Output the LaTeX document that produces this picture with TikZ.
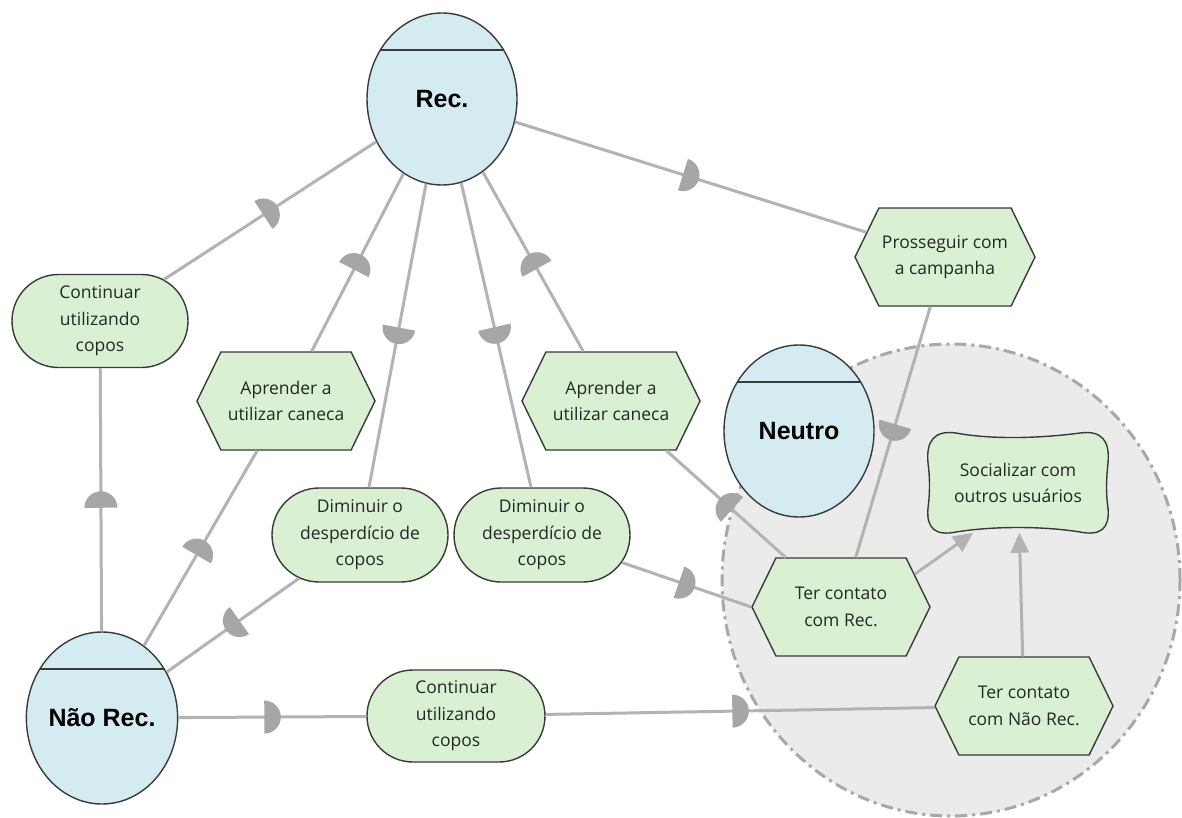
\documentclass[tikz,border=0pt]{standalone}
\usepackage{fontspec}
\setmainfont{Open Sans}
\newfontfamily\actorfont{Liberation Sans}
\usetikzlibrary{shapes.geometric,shapes.symbols,shapes.misc,arrows.meta,decorations.markings,calc}

\definecolor{actorfill}{HTML}{D4EBF2}
\definecolor{elemfill}{HTML}{D9F1D2}
\definecolor{linkgray}{HTML}{B3B3B3}
\definecolor{dgray}{HTML}{A6A6A6}
\definecolor{bndfill}{HTML}{EBEBEB}
\definecolor{bndline}{HTML}{A8A8A8}
\definecolor{outline}{HTML}{3A3A3A}
\definecolor{elemtext}{HTML}{262626}

\tikzset{
  actor/.style={ellipse, draw=outline, line width=1.4pt, fill=actorfill,
    minimum width=150pt, minimum height=172pt, inner sep=0pt,
    font=\actorfont\bfseries\fontsize{25}{30}\selectfont},
  elemtxt/.style={align=center, text=elemtext, font=\fontsize{17.5}{26.5}\selectfont},
  goal/.style={rounded rectangle, draw=outline, line width=1.4pt, fill=elemfill,
    minimum width=176pt, minimum height=93pt, inner sep=0pt, elemtxt},
  task/.style={signal, signal to=west and east, signal pointer angle=128,
    draw=outline, line width=1.4pt, fill=elemfill,
    minimum width=178pt, minimum height=98pt, inner sep=0pt, elemtxt},
  softbox/.style={rectangle, minimum width=180pt, minimum height=99pt, inner sep=0pt, elemtxt},
  bound/.style={ellipse, fill=bndfill, draw=bndline, line width=3pt,
    dash pattern=on 12pt off 5pt on 3pt off 5pt,
    minimum width=458pt, minimum height=472pt, inner sep=0pt},
  dep/.style={draw=linkgray, line width=3pt,
    postaction={decorate, decoration={markings,
      mark=at position 0.5 with {\fill[dgray] (-8,-16.5) arc[start angle=-90, end angle=90, radius=16.5] -- cycle;}}}},
  meansend/.style={draw=linkgray, line width=3pt, -{Triangle[length=20pt, width=18pt]}},
  actline/.style={draw=outline, line width=1.4pt},
}

\begin{document}
\begin{tikzpicture}[x=1pt, y=-1pt]
  \useasboundingbox (0,0) rectangle (1182,818);
  \fill[white] (0,0) rectangle (1182,818);

  % boundary of the Neutro actor
  \node[bound] (nbound) at (951,580) {};

  % actors
  \node[actor] (rec) at (442,99) {Rec.};
  \draw[actline] ($(rec.center)+(-61.6,-49)$) -- ($(rec.center)+(61.6,-49)$);
  \node[actor] (nrec) at (102,718) {Não Rec.};
  \draw[actline] ($(nrec.center)+(-61.6,-49)$) -- ($(nrec.center)+(61.6,-49)$);
  \node[actor] (neu) at (799,431) {Neutro};
  \draw[actline] ($(neu.center)+(-61.6,-49)$) -- ($(neu.center)+(61.6,-49)$);

  % goals
  \node[goal] (cont1) at (100,321) {Continuar\\utilizando\\copos};
  \node[goal, minimum height=94pt] (dim1) at (360,535) {Diminuir o\\desperdício de\\copos};
  \node[goal, minimum height=94pt] (dim2) at (542,535) {Diminuir o\\desperdício de\\copos};
  \node[goal, minimum width=178pt, minimum height=92pt] (cont2) at (456,716) {Continuar\\utilizando\\copos};

  % tasks
  \node[task] (apr1) at (286,401) {Aprender a\\utilizar caneca};
  \node[task] (apr2) at (611,401) {Aprender a\\utilizar caneca};
  \node[task, minimum width=180pt] (pros) at (945,257) {Prosseguir com\\a campanha};
  \node[task] (tc1) at (841,607) {Ter contato\\com Rec.};
  \node[task] (tcn) at (1024,706) {Ter contato\\com Não Rec.};

  % softgoal: wavy rounded outline behind its text node
  \begin{scope}[shift={(1018,483)}]
    \draw[outline, line width=1.4pt, fill=elemfill]
      (-62,-50) .. controls (-25,-43) and (25,-45) .. (62,-50)
      .. controls (84,-53) and (92,-42) .. (90,-20)
      .. controls (88,-2) and (88,12) .. (90,25)
      .. controls (92,46) and (82,53) .. (62,49)
      .. controls (25,43) and (-25,43) .. (-62,49)
      .. controls (-82,53) and (-92,46) .. (-90,25)
      .. controls (-88,10) and (-88,-5) .. (-90,-20)
      .. controls (-92,-42) and (-84,-53) .. (-62,-50) -- cycle;
  \end{scope}
  \node[softbox] (soft) at (1018,483) {Socializar com\\outros usuários};

  % dependencies (the half disc points towards the dependee)
  \draw[dep] (cont1) -- (rec);
  \draw[dep] (apr1) -- (rec);
  \draw[dep] (rec) -- (dim1);
  \draw[dep] (rec) -- (dim2);
  \draw[dep] (apr2) -- (rec);
  \draw[dep] (rec) -- (pros);
  \draw[dep] (nrec) -- (cont1);
  \draw[dep] (nrec) -- (apr1);
  \draw[dep] (dim1) -- (nrec);
  \draw[dep] (nrec) -- (cont2);
  \draw[dep] (cont2) -- (tcn);
  \draw[dep] (tc1) -- (apr2);
  \draw[dep] (dim2) -- (tc1.west);
  \draw[dep] (pros) -- (tc1);

  % means-end links
  \draw[meansend] (tc1.24) -- (soft.228);
  \draw[meansend] (tcn) -- (soft);
\end{tikzpicture}
\end{document}
